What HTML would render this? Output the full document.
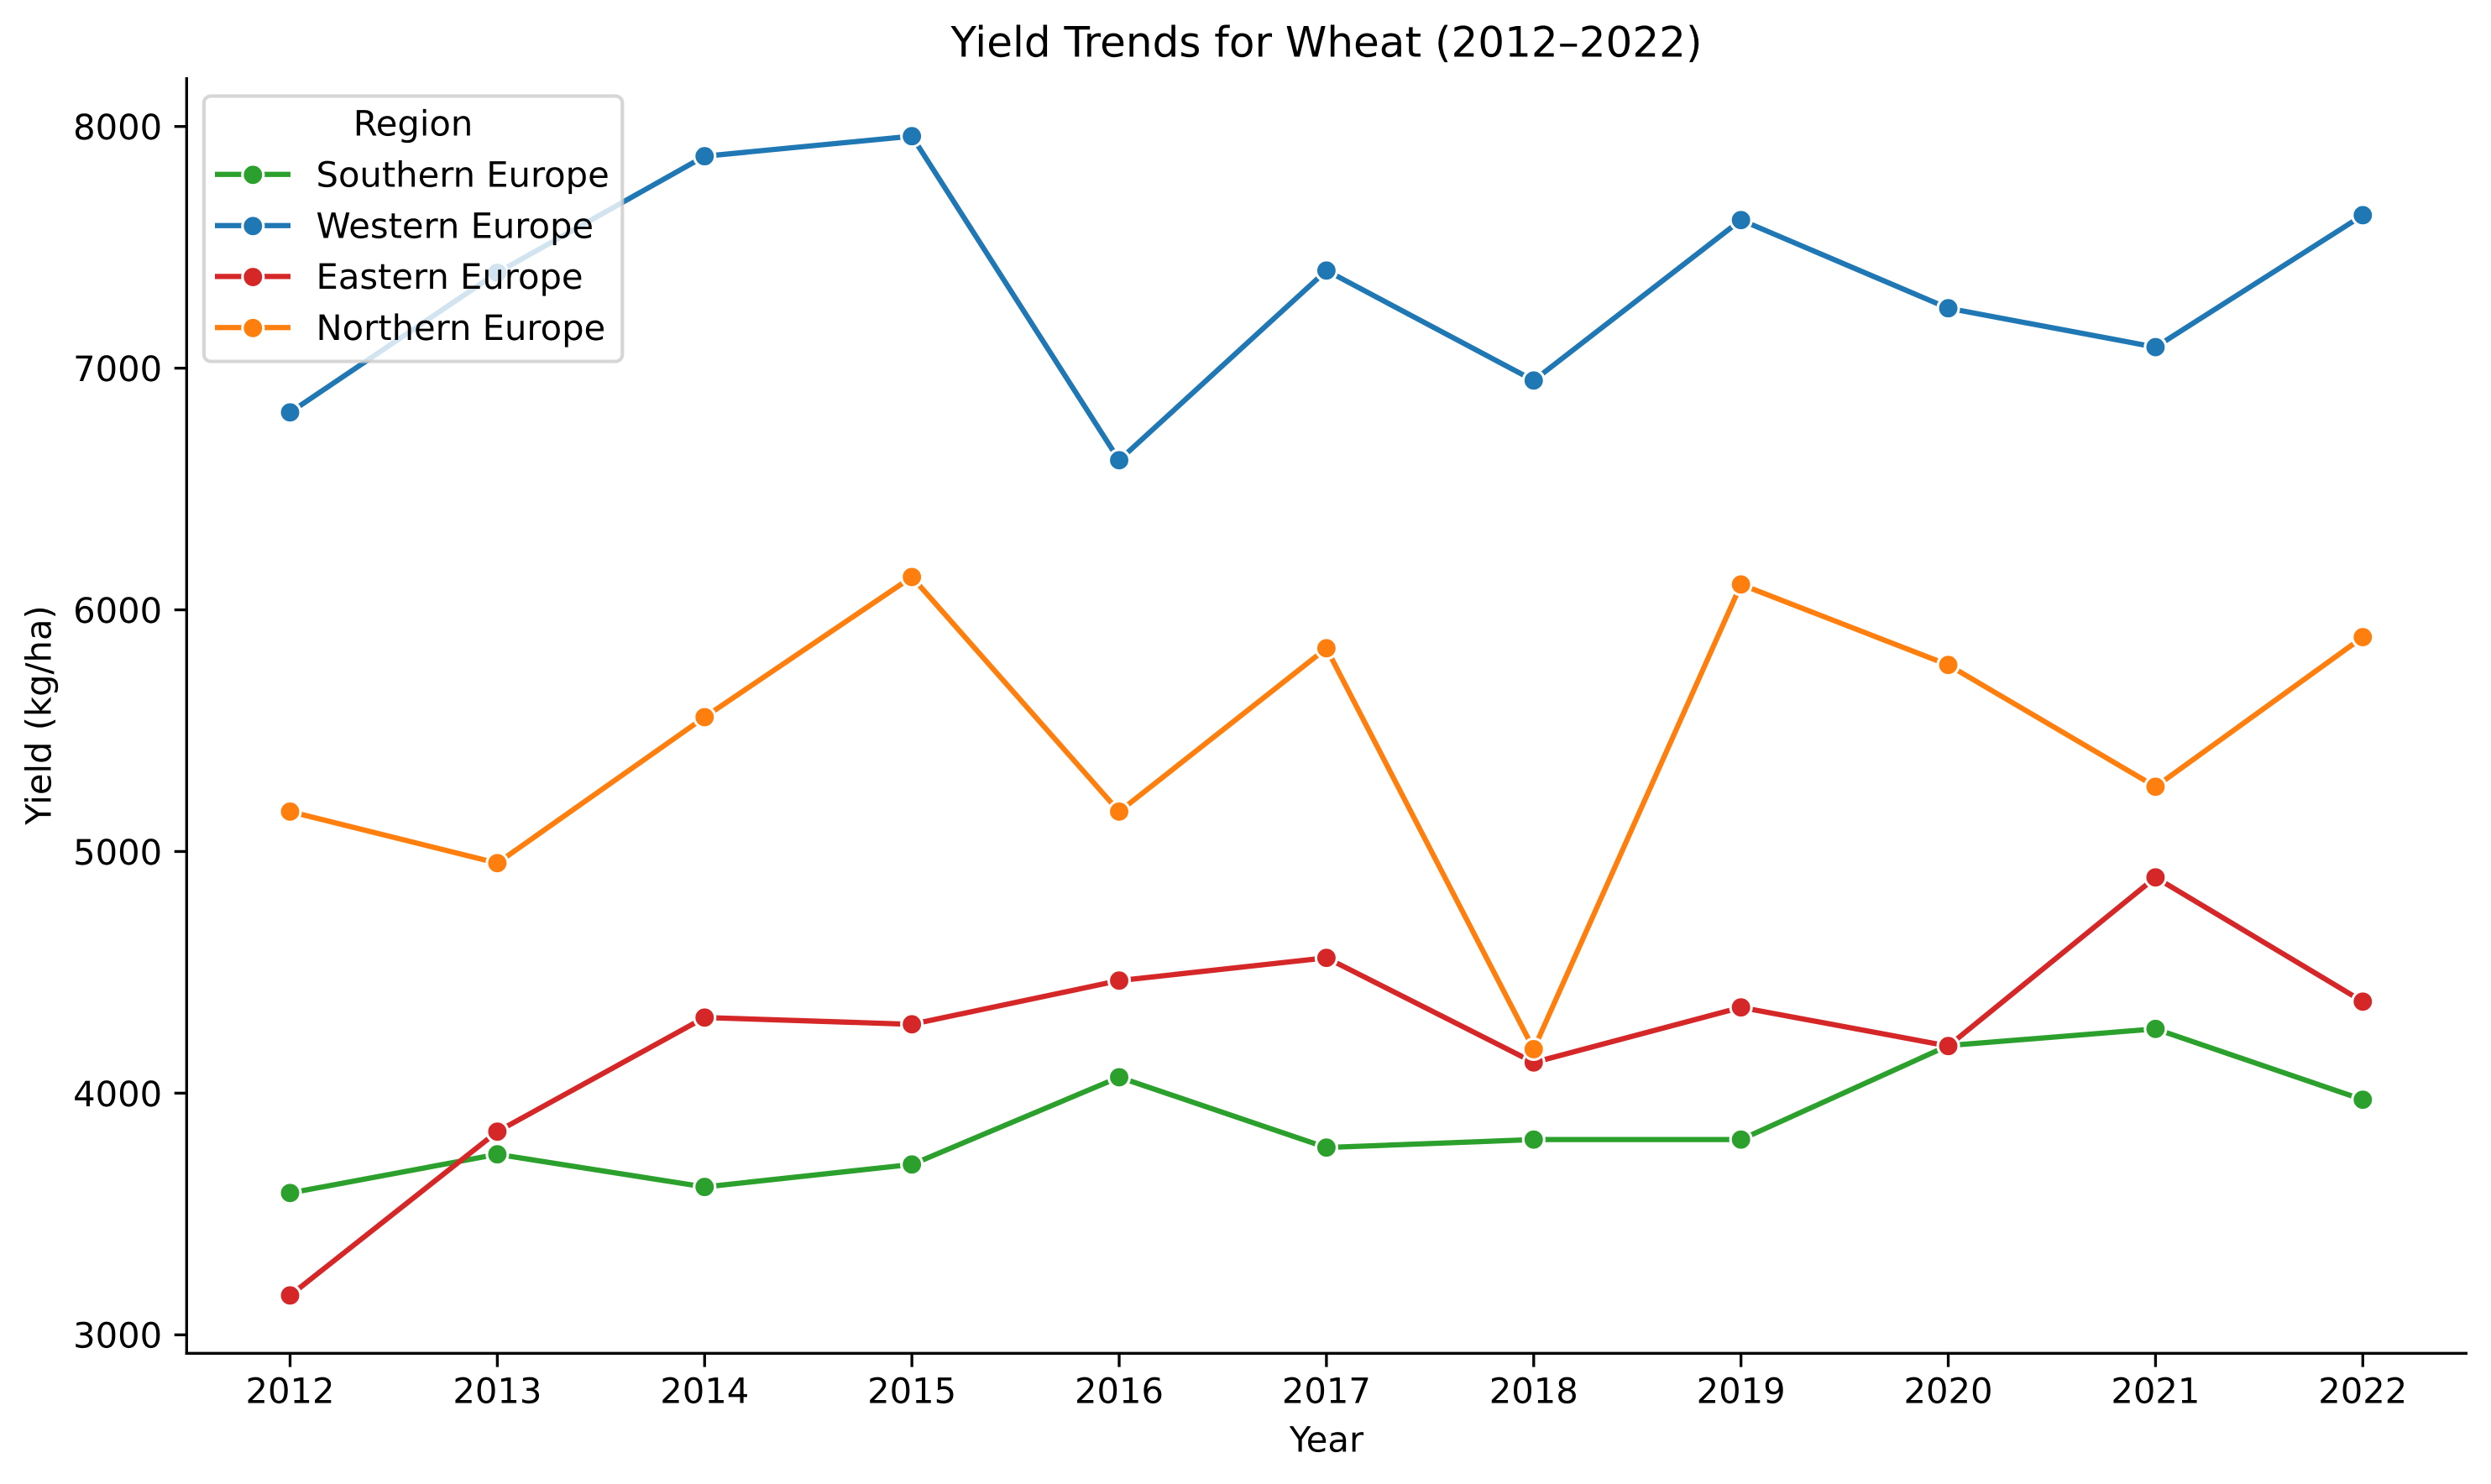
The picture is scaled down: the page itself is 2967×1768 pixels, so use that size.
<!DOCTYPE html>
<html lang="en">
<head>
<meta charset="utf-8">
<title>Yield Trends for Wheat (2012–2022)</title>
<style>
html,body{margin:0;padding:0;background:#fff;}
svg{display:block;}
text{font-family:"DejaVu Sans","Liberation Sans",sans-serif;fill:#000;text-rendering:geometricPrecision;}
</style>
</head>
<body>
<svg id="chart" xmlns="http://www.w3.org/2000/svg" width="2967" height="1768" viewBox="0 0 2967 1768">
  <rect x="0" y="0" width="2967" height="1768" fill="#ffffff"/>
  <text x="1580" y="67.6" font-size="50" text-anchor="middle">Yield Trends for Wheat (2012–2022)</text>
  <text x="1580" y="1729.3" font-size="41.67" text-anchor="middle">Year</text>
  <text x="60.7" y="852" font-size="41.67" text-anchor="middle" transform="rotate(-90 60.7 852)">Yield (kg/ha)</text>
  <g id="x-ticks"></g>
  <g id="y-ticks"></g>
  <line x1="222.3" y1="92" x2="222.3" y2="1614" stroke="#000" stroke-width="3.33"/>
  <line x1="220.6" y1="1612.3" x2="2939" y2="1612.3" stroke="#000" stroke-width="3.33"/>
  <g id="series-layer"></g>
  <g>
    <rect x="242.9" y="114.4" width="498.4" height="316.2" rx="8.3" ry="8.3" fill="#ffffff" fill-opacity="0.8" stroke="#cccccc" stroke-opacity="0.8" stroke-width="4.17"/>
    <text x="492" y="161.3" font-size="41.67" text-anchor="middle">Region</text>
    <g>
      <line x1="256" y1="207.7" x2="346" y2="207.7" stroke="#2ca02c" stroke-width="6.25"/>
      <circle cx="301.3" cy="208.3" r="12.5" fill="#2ca02c" stroke="#fff" stroke-width="3.125"/>
      <text x="376.5" y="222.5" font-size="41.67">Southern Europe</text>
    </g>
    <g>
      <line x1="256" y1="268.7" x2="346" y2="268.7" stroke="#1f77b4" stroke-width="6.25"/>
      <circle cx="301.3" cy="269.3" r="12.5" fill="#1f77b4" stroke="#fff" stroke-width="3.125"/>
      <text x="376.5" y="283.3" font-size="41.67">Western Europe</text>
    </g>
    <g>
      <line x1="256" y1="329.4" x2="346" y2="329.4" stroke="#d62728" stroke-width="6.25"/>
      <circle cx="301.3" cy="330" r="12.5" fill="#d62728" stroke="#fff" stroke-width="3.125"/>
      <text x="376.5" y="344" font-size="41.67">Eastern Europe</text>
    </g>
    <g>
      <line x1="256" y1="390.2" x2="346" y2="390.2" stroke="#ff7f0e" stroke-width="6.25"/>
      <circle cx="301.3" cy="390.8" r="12.5" fill="#ff7f0e" stroke="#fff" stroke-width="3.125"/>
      <text x="376.5" y="404.8" font-size="41.67">Northern Europe</text>
    </g>
  </g>
</svg>
<script>
var years = [2012, 2013, 2014, 2015, 2016, 2017, 2018, 2019, 2020, 2021, 2022];
var yTickValues = [3000, 4000, 5000, 6000, 7000, 8000];
var southernEurope = [3587, 3747, 3612, 3705, 4066, 3775, 3808, 3808, 4197, 4266, 3973];
var westernEurope = [6817, 7395, 7877, 7960, 6619, 7404, 6949, 7613, 7248, 7087, 7633];
var easternEurope = [3163, 3841, 4313, 4285, 4466, 4560, 4127, 4355, 4195, 4893, 4379];
var northernEurope = [5165, 4952, 5556, 6136, 5165, 5841, 4182, 6105, 5772, 5268, 5887];

var SVGNS = 'http://www.w3.org/2000/svg';

function xScale(year) {
  return 345.5 + (year - 2012) * (2814.3 - 345.5) / (2022 - 2012);
}
function yScale(value) {
  return 1590.3 - (value - 3000) * (1590.3 - 150.7) / (8000 - 3000);
}
function make(tag, attrs) {
  var el = document.createElementNS(SVGNS, tag);
  for (var k in attrs) { el.setAttribute(k, attrs[k]); }
  return el;
}

var xTickLayer = document.getElementById('x-ticks');
years.forEach(function (year) {
  var px = xScale(year);
  var tick = make('line', { x1: px, y1: 1612.3, x2: px, y2: 1628.6, stroke: '#000', 'stroke-width': 3.33 });
  
  
  xTickLayer.appendChild(tick);
  var label = make('text', { x: px, y: 1671.3, 'font-size': 41.67, 'text-anchor': 'middle' });
  
  
  label.textContent = String(year);
  xTickLayer.appendChild(label);
});

var yTickLayer = document.getElementById('y-ticks');
yTickValues.forEach(function (value) {
  var py = yScale(value);
  var tick = make('line', { x1: 207.7, y1: py, x2: 222.3, y2: py, stroke: '#000', 'stroke-width': 3.33 });
  
  
  yTickLayer.appendChild(tick);
  var label = make('text', { x: 193.1, y: py + 15.4, 'font-size': 41.67, 'text-anchor': 'end' });
  
  
  label.textContent = String(value);
  yTickLayer.appendChild(label);
});

function drawSeries(slug, values, color) {
  var layer = document.getElementById('series-layer');
  var group = make('g', {});
  
  
  var pts = values.map(function (v, i) {
    return xScale(years[i]).toFixed(2) + ',' + yScale(v).toFixed(2);
  }).join(' ');
  var line = make('polyline', { points: pts, fill: 'none', stroke: color, 'stroke-width': 6.25, 'stroke-linejoin': 'round', 'stroke-linecap': 'round' });
  
  
  group.appendChild(line);
  values.forEach(function (v, i) {
    var dot = make('circle', { cx: xScale(years[i]), cy: yScale(v), r: 12.5, fill: color, stroke: '#ffffff', 'stroke-width': 3.125 });
    
    
    group.appendChild(dot);
  });
  layer.appendChild(group);
}

drawSeries('southern-europe', southernEurope, '#2ca02c');
drawSeries('western-europe', westernEurope, '#1f77b4');
drawSeries('eastern-europe', easternEurope, '#d62728');
drawSeries('northern-europe', northernEurope, '#ff7f0e');
</script>
</body>
</html>
